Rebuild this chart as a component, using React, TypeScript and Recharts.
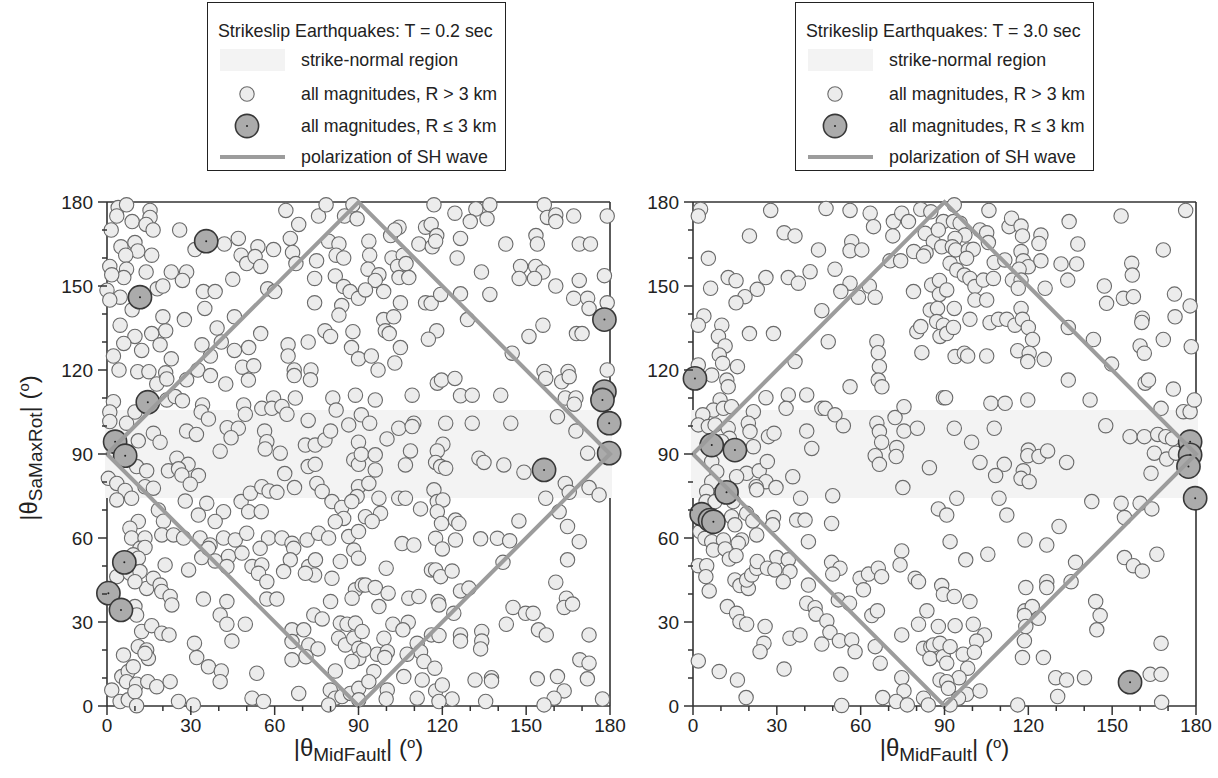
import React from 'react';
import { ScatterChart, Scatter, XAxis, YAxis, ReferenceArea, Label } from 'recharts';

// ---- axis / reference values (degrees) ----
const angleTicks = [0, 10, 20, 30, 40, 50, 60, 70, 80, 90, 100, 110, 120, 130, 140, 150, 160, 170, 180];
const majorStep = 30;
const strikeNormalBand = [75, 105];
const shPolarization: [number, number][] = [[0, 90], [90, 180], [180, 90], [90, 0], [0, 90]];

// ---- T = 0.2 sec ----
const shortSmall: [number, number][] = [
  [4,178],[7,179],[3.5,175],[15.4,177],[15.4,174.5],[9,173],[14,172],[16.5,170],[1.5,170],[26,170],[5,164],[10,165.5],[11,162.5],[6.7,161],[16,161],[1,157],[7,156],[6,153],[1.7,154],[14,155],[23,155],[28.5,155],[27,152],[0,148.5],[4.7,146],[1,145],[18,149],[20,150],[9,141.5],[34.5,148],[38.7,148],[35,142],[20,139],[27.7,138],[4.7,136],[21,134],[16,133],[10,132],[6,129.5],[19,129],[12.4,127],[2.3,125],[23,124],[4.3,120],[31.5,163],[42,165],[47,167],[48,161],[50,158],[54,164],[53,160.5],[55,157],[59.6,163],[57.5,149],[60,148],[45,152.4],[45.6,139],[39.4,135],[40.9,130],[34,129],[37,125],[45.6,127],[50.7,128],[55,133],[48.5,121],[52.5,121.5],[64.8,129],[64.8,125],[72,130],[64,177],[68.6,172],[65.6,167],[66.4,162],[67.6,158],[75,159],[74.3,152.7],[74.3,144],[79.3,166],[83,165],[82,161],[84.7,160],[81.7,153.6],[84.7,149.8],[87,148],[90,145.6],[84,143],[83,139.6],[78,134],[80,132],[88,133.7],[87.5,128],[90,124],[75.7,175],[78.4,179],[88,179],[85,175],[89.5,174],[11,119.4],[15,119.4],[21,119],[32.5,120],[67,120],[73,120],
  [117,179],[124.5,176],[132,177.5],[137,179],[130,173],[136,174],[156.5,179],[157.6,174.5],[160.6,175.4],[160.6,173],[167,175],[179,175],[93.7,166],[94,161],[93.4,156],[101.5,168],[104.5,171],[103,170],[114,171],[116,172],[118,168],[111.6,165],[116.4,164],[117.6,166],[126.5,167],[125.3,160],[102,160],[106,161],[104,157],[107,158],[104.5,153],[108,153],[97.3,154],[96,152],[99,148],[92.5,148.6],[134,155],[142.7,165],[153.5,168],[154,165],[169,165],[173,165],[148,157],[153.4,157],[156,155],[147.5,152.7],[153,152.7],[160.6,150],[169,152],[178,153.7],[105,144],[114,144],[116,143.8],[119.4,147],[126.5,147.2],[137,147],[99,138],[102.6,139],[99.6,134],[101,133],[118,134],[115,131],[129,138],[105,128],[94.6,125],[151,132],[156,136],[167,145.6],[172,145.6],[172.5,142],[179,144],[168,133],[170,133],[145,126],[179,120],[156.4,119.5],[165,119.5],[97,120],[103,122.5],
  [17.8,115],[21.4,116.8],[28.5,116.5],[37,118],[42.5,115],[50.6,116.4],[67,118],[72.8,116.5],[2.3,108.7],[1,105],[1,101.6],[7,101],[10,105],[21.4,109.3],[24.4,110.5],[27,109],[34.2,107.5],[33.7,105],[36.3,102.5],[48.9,107.5],[49.5,104.2],[55.4,106.3],[59.6,110],[59,106.3],[62.6,107],[64.4,104.2],[67.4,110],[72,102],[80.8,110],[82,105.7],[88.9,111],[86.5,100.4],[91,104],[16.6,97.4],[19,94.2],[11.2,94.7],[28.5,98.2],[32,97],[43,99.4],[47,99.2],[44.4,95.8],[56.4,98.2],[57.2,94.4],[56.6,91.8],[40.5,91],[62,90.3],[71,93.2],[74.5,93.2],[78,95],[80,98.2],[90,94.2],[25,88.5],[29,86.3],[22,84],[25.6,84.7],[26.8,82.5],[32.7,82.3],[29.8,79.2],[10.6,85.5],[14.2,84],[0.5,81.3],[3.5,79.5],[6.5,77],[8.8,74.2],[13.6,78.3],[16.6,77.8],[3.5,73.6],[28,73.2],[35.7,72.4],[32.7,68.2],[41.7,69.4],[38.7,65.9],[48,73],[51.3,76],[55.4,78.3],[58,76.8],[60.8,76.3],[50.7,69.4],[55.2,69.4],[63.6,83],[67.1,78],[72,85.5],[74.5,86.3],[75.1,79.5],[77,76.6],[88.3,87.9],[90,86.3],[91,89.9],[90,78.3],[89.5,74.8],[80.5,73],[84,70.9],[87.6,73],[84.7,67],[81.7,65.8],[18.4,70],[20.2,66],[11.2,65.9],[8.2,63.5],[8.8,60],[13.6,60],[19.6,61.1],[23.8,61.1],[27.4,60],[33.3,60],[36.9,57.5],[41.7,60],[45.9,59.3],[50,61.7],[57.8,60],[62.6,60],[66.2,58.1],[71.6,59.3],[75.7,61.7],[79.3,60],[86.5,60.5],[90,62.3],
  [118.2,115.3],[119.7,116.4],[124.5,117],[109.2,111],[126.5,110.8],[130.7,111],[140.9,111],[157,117],[162.7,115.8],[165.4,117.6],[164,110],[167.8,110],[167.2,107.8],[96,109.3],[94,101],[104.4,99.2],[109.8,101],[109.2,99.8],[121.2,101],[130.7,101],[144.5,101],[100.2,95.4],[161.2,103.3],[167.8,98.2],[108.6,91.1],[106.8,86.1],[120.2,93.5],[118.2,91.1],[117.6,87],[119.4,85.5],[121.2,84.9],[133.1,88.5],[134.9,87],[142,86.1],[149.2,83.5],[172,90.3],[96,89.7],[96,84.3],[93.7,79.5],[97.3,74.2],[97.9,68.8],[92.5,67.6],[94.9,65.9],[104.4,74.2],[106.8,74.2],[112.2,70.4],[117,77.2],[118.2,73],[120.2,73.6],[118.2,69.4],[119.7,65.2],[124.7,66.4],[125.9,65.2],[147.4,66.1],[157,74.2],[164,79.5],[165.4,76.3],[161.8,69.4],[172.5,78],[176.1,75.4],[164.8,64.1],[105.6,58],[109.8,57.5],[117.6,59.9],[124.7,59.3],[133.7,59.7],[139.7,59.9],[144.1,59],[169,58.7],
  [11.8,56.3],[13.6,56.6],[9.4,54],[11.2,52.8],[20.8,50.4],[29.2,48.6],[33.9,53],[36.3,56.3],[38.7,51.8],[43.5,53.4],[42.9,49.8],[48.3,54.6],[54.8,56.3],[51.9,49.8],[55.4,50.4],[54.2,47.4],[57.2,44.4],[66.8,56.3],[65.6,52.2],[63.2,48],[72.2,49.8],[74.6,52.2],[74.3,46.8],[71,47.4],[83.5,51.6],[80.5,45.6],[88.3,55.7],[90,52.8],[88.9,41.5],[91.3,43.2],[87.7,38.5],[3.5,46.2],[8.2,47.4],[11.8,48],[14.2,42],[16.6,45.6],[19,43.2],[19.6,40.9],[22.6,39.1],[23.2,36.1],[10,44.4],[10,35.5],[10.6,32.5],[34.5,38.2],[42.9,37.3],[40.5,32.5],[42.9,29.2],[49.5,29.2],[44.7,23.2],[57.2,38.2],[60.8,38.2],[74,32.5],[77,31.1],[80,37.3],[66.2,27.2],[70.4,27.2],[66.2,23],[72.2,21.8],[75.5,20.4],[71.2,17.6],[66.2,16.5],[83.5,29.6],[85.9,29.2],[88.9,29.6],[82.9,24.2],[85.3,21.8],[88.3,24.2],[91.3,26.6],[90.1,20.6],[90.1,17],[87.7,15.9],[12.4,26.6],[16,28.7],[19.6,26],[22.2,25.4],[11.2,21.2],[14.2,20],[14.8,17],[13.6,18.8],[31.3,22.4],[32.1,17.3],[36.3,14],[40.9,12.5],[40.5,8.7],[5.9,18.2],[5.3,10.5],[7.6,12.3],[9.4,14],[7,8.7],[10.6,7.8],[14.6,8.7],[17.8,6.9],[22.6,8.7],[1.7,5.7],[4.7,1.6],[7.6,2.2],[10,5.1],[10.6,0.1],[25.6,1.6],[30.9,0.4],[53.6,11.7],[51.9,2.8],[56,1.6],[68.6,4.5],[81.7,12.5],[79.9,5.7],[81.7,2.8],[84.1,3.4],[87.1,4.5],[90.1,6.3],[90.1,2.2],[79.3,0.4],
  [120,56.1],[99.9,49.2],[116.1,48.6],[117.6,48.6],[119.4,46.2],[123.5,48.2],[141.7,51.3],[164.8,52.2],[92.5,43.2],[96,42.3],[100.6,40.3],[108,38.5],[111.6,39.1],[97.3,35.5],[118.5,37.3],[118.8,36.1],[124.1,33.1],[126.5,41.1],[129.5,42.1],[160.6,44.2],[164.4,38.5],[163.6,35.2],[166.6,36.4],[145.3,35.2],[149.8,33.1],[152.5,33.1],[142.9,29.2],[154.4,27.2],[157.2,25.4],[172.5,25.4],[102.3,29.2],[107.8,29.9],[105.9,27.2],[99.1,24.2],[96.7,18.5],[100.3,19.4],[99.4,17.3],[111,22.4],[112.2,19.4],[107.4,18.5],[113.4,15.9],[116.1,25.4],[118.8,25.2],[126.5,25.4],[126.5,23.2],[134.1,26.6],[134.1,23.2],[133.7,20.4],[117.3,13.5],[106.2,10.5],[112.8,9.3],[117.6,5.4],[120,7.5],[123.5,2.5],[118.8,1.6],[131.7,9.3],[137.6,10.1],[137.6,8.9],[111,2.8],[100.3,5.7],[99.9,2.5],[135.5,1.6],[154,9.7],[161.2,10.5],[163.6,5.4],[160,2.8],[156.4,0.4],[169.2,16.5],[172.5,15.3],[171.9,9.7],[177.3,2.5],[95.5,12.3],[93.7,8.7],[91.9,20],
];
const shortNear: [number, number][] = [
  [35.5,166],[11.8,146],[14.6,108.5],[2.9,94.4],[6.5,89.4],[178,112.3],[177.3,109.3],[179.7,101],[179.7,90.3],[156.4,84.3],[178,138],[6.2,51.3],[0.5,40.3],[5,34.3],
];

// ---- T = 3.0 sec ----
const longSmall: [number, number][] = [
  [2.7,177.4],[1.9,175],[27.8,177],[47.6,177.7],[56.2,177],[63.4,176],[64.6,171.2],[71.7,173],[74.7,176],[77.1,173],[81.5,177.4],[85.1,176.5],[89.6,173],[71.5,167.9],[20.2,167.9],[32.6,169],[36.5,167.9],[44.9,162.9],[56.8,165.8],[56.2,162.6],[60.4,162.9],[83.1,168.8],[86,165.8],[87.8,170],[89,164],[79,162.3],[83.4,161.9],[82.5,160.7],[5.5,159.9],[70.5,159],[74.3,159],[12.6,153],[15.4,151.9],[26.1,153],[34.1,153],[37.7,151],[41.9,155.1],[50.8,156],[6.3,149.2],[18.6,146.2],[15.4,144],[23,148.8],[56.2,151],[52.9,148],[59.2,146],[63.1,150],[65.2,146],[78.9,148],[85.4,150.4],[88.2,152],[88.2,147],[90.8,148.6],[84.9,141.4],[87.5,142],[87.2,137.3],[89.6,136],[88.4,132],[90.8,133],[3.9,139.3],[1.9,136],[10.3,136],[9.1,132],[11.5,128.6],[9.4,125.4],[10.6,122.4],[15.9,121.2],[20.2,133],[28.8,133],[46.1,141.2],[48.4,130.1],[65.8,130.1],[66.3,126.2],[66.7,121.2],[80.1,133.7],[81.5,135.5],[81.9,126.2],[36.5,123],[1.9,121.8],
  [93.5,179],[105.9,177],[93.2,173],[95.6,172.4],[97.3,168.2],[93.8,167],[92.8,164],[94,162.9],[98.5,162.9],[100.3,163.1],[102.7,170],[105.1,169],[105.7,165.5],[113.1,171.2],[114,174.2],[117.4,171.4],[117.9,167.9],[124.5,168.2],[123.8,165.2],[134.6,173],[137.7,165],[153.2,175],[176.3,177],[168.3,162.9],[92,158.1],[94.4,155.7],[97.9,159.9],[97.1,153.9],[99.1,152.7],[100.9,149.8],[103.9,152.1],[107.5,152.7],[107.8,158.4],[111.6,159.3],[117.4,162.3],[118.2,159],[120,156.9],[116.7,156],[114.3,152.1],[117.4,152.1],[116.4,149.2],[124.5,159],[126,149.2],[131.7,157.9],[137.3,157.9],[134.1,152.1],[147.2,150],[148,143.8],[154,145.6],[157.6,146.2],[157,158.1],[157.2,153.9],[172.3,147.1],[177.9,142.9],[172.5,139],[93.5,142],[93.2,135.2],[99.1,138.1],[100.9,145],[105.1,145],[106.3,136.9],[109.3,138.1],[112.3,138.1],[115.2,136],[117.4,142],[117.9,138.1],[120,135.2],[121.5,130.9],[134.3,135.2],[143.3,130.9],[160.8,138.5],[160.6,137],[168.3,130.9],[160,128.6],[161.5,126],[178.3,128.3],[93.8,124.8],[97.1,126],[98.3,125],[105.1,125],[116.2,126.9],[120.3,126],[119.8,123],[125.7,123.8],[149.8,122.1],
  [6.7,118.2],[12.1,116.4],[12.6,114],[9.7,109.3],[7.3,105.7],[10.9,106.3],[13.8,106.9],[3.5,104],[1.9,100.4],[5.5,99.8],[7.9,100.4],[12.6,99.2],[13,95.6],[10.3,94.4],[21.6,105.1],[19.8,101],[20.4,98],[27,96.2],[29,97.4],[21.6,92.6],[26.1,110.1],[34.1,111.1],[40.7,111.1],[33.3,106.3],[46.1,106.3],[47.3,106.3],[50.8,104],[53.8,100.1],[40.7,98.2],[42.5,92],[56.2,114],[66.3,116.4],[67.6,114],[65.8,101],[66.7,98],[67.5,94.2],[65.2,89.4],[66.7,86.3],[72.3,103],[75.5,106.9],[75.5,98.2],[80.3,99.2],[72.9,92.3],[72.7,89.1],[84.6,85.1],[75.1,78],[89.6,110.1],[6.7,87.3],[8.5,83.7],[6.7,80.1],[4.9,76.6],[4.7,73],[7.9,73],[10.9,76.6],[19.2,83.1],[15.6,81.9],[23.7,84],[26.6,87.3],[26.1,80.1],[22.6,78.3],[22.8,77.2],[29.7,78],[35.7,81.9],[38.5,74.2],[50,75.1],[14.4,73],[13.8,67.6],[15,64.7],[19.2,68.8],[21.4,66.1],[22.8,61.1],[17.4,59.3],[16.2,58.1],[28.8,67.3],[28.5,64.7],[37.1,66.4],[40.1,66.4],[49.6,65.2],[41.3,58.7],[87.8,70.4],[2.5,62.3],[4.3,59.9],[6.7,58.7],[10.9,59.3],
  [134.3,116.4],[90.4,110.1],[106.6,108.1],[111.7,108.1],[119.8,109.3],[142.1,109.3],[161.8,115.3],[163,116.4],[171.9,113.2],[167.5,106.3],[175.5,105.1],[177.9,105.1],[179.4,109.3],[93.5,99.2],[107.8,99.2],[99.7,94.2],[147.7,100.1],[156.4,96.2],[161.5,96.2],[166.3,97],[169.2,96.2],[171.6,95.4],[120,91.4],[119.8,89.4],[123.8,89.1],[126.9,91.1],[118.2,84],[117.4,81.3],[120.3,80.1],[111.4,86.3],[108.3,82.3],[102.7,87],[133.7,87],[165.1,90.3],[169.5,88.2],[172.8,90.3],[163.9,83.1],[94.4,74.2],[90.8,68.2],[109.5,74.2],[112.3,68.2],[142.7,73],[153.2,72.4],[160,72.4],[164.2,70.4],[154.4,67.3],[131,64.1],[92,58.7],[118.8,59.3],[126.6,57.5],
  [7.3,55.7],[11.5,56.1],[13,52.5],[15.4,53.7],[1.9,50.1],[4.9,50.1],[4.6,46.2],[5.8,41.1],[15,45],[16.8,43],[19.8,42],[19.2,45],[21,46.8],[22.8,49.2],[23,51.6],[26.6,49.2],[30,53],[29.3,48.6],[34.1,52.2],[34.7,48],[32.3,44.4],[41.3,43.2],[49.6,51.3],[52.6,49.2],[50,47.1],[59.8,45.6],[62.8,47.1],[66.3,49.2],[67.5,46.2],[61,41.5],[74.7,55.4],[74.1,50.4],[79.5,45.6],[80.7,44.4],[89,43],[89.6,39.9],[12.3,35.5],[15.6,33.1],[16.8,30.1],[19.2,29.2],[25.8,28.4],[25.4,22.4],[24,19.4],[34.7,24.2],[38.3,25.4],[40.7,36.7],[43.7,35.1],[44,32.8],[47.9,30.4],[49,26.3],[46.1,22.1],[52,37.9],[56,36.7],[52.4,23.3],[56.8,23.6],[58,19.4],[64,32.3],[66,34],[65.2,21.2],[67,15.3],[74.7,25.4],[80.7,29.2],[83.7,34],[82.5,20.6],[85.1,21.2],[86,21.8],[88.4,22.4],[87.8,28.4],[84.8,17],[89.6,17.6],[1.9,16.1],[9.4,12.3],[15.9,9.3],[19,3],[32.6,13.2],[52.9,11.3],[53.2,0.2],[74.7,10.1],[75.5,5.4],[67.9,3],[72.7,1.6],[76.7,0.4],[82.5,2.8],[84.2,0.4],[88.4,9.3],
  [97.6,52.2],[105.5,54.2],[136.9,51.3],[154.4,53],[157.6,50.1],[160.8,48.2],[166,54.2],[93.5,39.1],[99.1,37.3],[119.1,42.3],[126.6,44.4],[126.6,42.3],[135.3,44.4],[118.8,34],[121.4,35.5],[118.6,32.3],[123.6,31.3],[119.1,28.4],[118.6,23.3],[117.9,17.3],[125.4,17.3],[144.1,37.3],[145.7,32.3],[144.5,27.2],[167.5,22.4],[93.8,28.7],[100.3,29.2],[104.3,25.4],[101.5,23.2],[92,21.2],[96.7,18.5],[100.7,19.2],[90.8,15.3],[98.3,13.5],[95.2,10.1],[90.8,8.7],[91.4,6.3],[97.9,4.2],[102.7,5.4],[95,2.8],[92,0.4],[116.2,0.4],[129.8,10.1],[133.7,9.3],[140.1,10.1],[130.5,3.4],[163.6,11.3],[167.5,11.3],[167.7,1.3],
];
const longNear: [number, number][] = [
  [0.7,117],[6.7,93.2],[15,91.4],[12,76.3],[3.1,68.5],[6.1,66.4],[7.3,65.8],[177.9,94.4],[177.9,89.7],[177.3,85.5],[179.7,74.2],[156.4,8.5],
];

const FONT = '"Liberation Sans", Arial, Helvetica, sans-serif';
const AXIS = '#333';
const BAND = '#f3f3f3';
const SH = '#9c9c9c';
const TICK_FONT = 19;
const LEGEND_FONT = 17.8;

const asPoints = (arr: [number, number][]) => arr.map(([x, y]) => ({ x, y }));

const SmallDot = (p: any) => (
  <circle cx={p.cx} cy={p.cy} r={7.2} fill="#ececec" stroke="#6a6a6a" strokeWidth={1.1} />
);
const BigDot = (p: any) => (
  <g>
    <circle cx={p.cx} cy={p.cy} r={11.6} fill="#ababab" stroke="#383838" strokeWidth={1.6} />
    <circle cx={p.cx} cy={p.cy} r={1} fill="#222" />
  </g>
);
const NoDot = () => <g />;

const tickLen = (v: number) => (v % majorStep === 0 ? 9 : 5);

const makeTick = (side: 'bottom' | 'top' | 'left' | 'right', labelled: boolean) => (p: any) => {
  const v = Number(p.payload.value);
  const len = tickLen(v);
  const major = v % majorStep === 0;
  const { x, y } = p;
  let line: React.ReactNode = null;
  let text: React.ReactNode = null;
  if (side === 'bottom') {
    line = <line x1={x} y1={y} x2={x} y2={y + len} stroke={AXIS} strokeWidth={1.5} />;
    if (labelled && major) text = <text x={x} y={y + 26} textAnchor="middle" fontSize={TICK_FONT} fill="#222" fontFamily={FONT}>{v}</text>;
  } else if (side === 'top') {
    line = <line x1={x} y1={y} x2={x} y2={y - len} stroke={AXIS} strokeWidth={1.5} />;
  } else if (side === 'left') {
    line = <line x1={x} y1={y} x2={x - len} y2={y} stroke={AXIS} strokeWidth={1.5} />;
    if (labelled && major) text = <text x={x - 14} y={y + 7} textAnchor="end" fontSize={TICK_FONT} fill="#222" fontFamily={FONT}>{v}</text>;
  } else {
    line = <line x1={x} y1={y} x2={x + len} y2={y} stroke={AXIS} strokeWidth={1.5} />;
  }
  return <g>{line}{text}</g>;
};

const TitleText = ({ sub }: { sub: string }) => (
  <>
    <tspan>|θ</tspan>
    <tspan fontSize={19} dy={5}>{sub}</tspan>
    <tspan dy={-5}>| (</tspan>
    <tspan fontSize={15} dy={-8}>o</tspan>
    <tspan dy={8}>)</tspan>
  </>
);

const XTitle = (props: any) => {
  const vb = props.viewBox || {};
  const cx = vb.x + vb.width / 2;
  const cy = vb.y + 50;
  return (
    <text x={cx} y={cy} textAnchor="middle" fontSize={24} fill="#222" fontFamily={FONT}>
      <TitleText sub="MidFault" />
    </text>
  );
};

const YTitle = (props: any) => {
  const vb = props.viewBox || {};
  const cx = vb.x - 10;
  const cy = vb.y + vb.height / 2 - 6;
  return (
    <text x={cx} y={cy} textAnchor="middle" fontSize={24} fill="#222" fontFamily={FONT} transform={`rotate(-90 ${cx} ${cy})`}>
      <TitleText sub="SaMaxRot" />
    </text>
  );
};

const LegendBox = ({ period }: { period: string }) => (
  <svg width={300} height={170} style={{ display: 'block' }}>
    <rect x={0.5} y={0.5} width={298} height={168} fill="#fff" stroke="#222" strokeWidth={1} />
    <text x={11} y={35} fontSize={LEGEND_FONT} fill="#222" fontFamily={FONT}>{`Strikeslip Earthquakes: T = ${period} sec`}</text>
    <rect x={13} y={47} width={65} height={22} fill={BAND} />
    <text x={94} y={64} fontSize={LEGEND_FONT} fill="#222" fontFamily={FONT}>strike-normal region</text>
    <SmallDot cx={40} cy={92} />
    <text x={94} y={98} fontSize={LEGEND_FONT} fill="#222" fontFamily={FONT}>all magnitudes, R &gt; 3 km</text>
    <BigDot cx={40} cy={124} />
    <text x={94} y={130} fontSize={LEGEND_FONT} fill="#222" fontFamily={FONT}>all magnitudes, R ≤ 3 km</text>
    <line x1={13} y1={155} x2={78} y2={155} stroke={SH} strokeWidth={4} />
    <text x={94} y={161} fontSize={LEGEND_FONT} fill="#222" fontFamily={FONT}>polarization of SH wave</text>
  </svg>
);

const Panel = ({ small, near, withYTitle }: { small: [number, number][]; near: [number, number][]; withYTitle: boolean }) => (
  <ScatterChart width={640} height={778} margin={{ top: 192, right: 20, bottom: 12, left: 47 }}>
    <XAxis
      type="number" dataKey="x" xAxisId={0} orientation="bottom" domain={[0, 180]} ticks={angleTicks}
      interval={0} height={60} tickSize={0} tickMargin={0} tickLine={false}
      axisLine={{ stroke: AXIS, strokeWidth: 1.6 }} tick={makeTick('bottom', true)}
    >
      <Label content={XTitle} />
    </XAxis>
    <XAxis
      type="number" dataKey="x" xAxisId="top" orientation="top" domain={[0, 180]} ticks={angleTicks}
      interval={0} height={10} tickSize={0} tickMargin={0} tickLine={false}
      axisLine={{ stroke: AXIS, strokeWidth: 1.6 }} tick={makeTick('top', false)}
    />
    <YAxis
      type="number" dataKey="y" yAxisId={0} orientation="left" domain={[0, 180]} ticks={angleTicks}
      interval={0} width={60} tickSize={0} tickMargin={0} tickLine={false}
      axisLine={{ stroke: AXIS, strokeWidth: 1.6 }} tick={makeTick('left', true)}
    >
      {withYTitle ? <Label content={YTitle} /> : null}
    </YAxis>
    <YAxis
      type="number" dataKey="y" yAxisId="right" orientation="right" domain={[0, 180]} ticks={angleTicks}
      interval={0} width={10} tickSize={0} tickMargin={0} tickLine={false}
      axisLine={{ stroke: AXIS, strokeWidth: 1.6 }} tick={makeTick('right', false)}
    />
    <ReferenceArea
      x1={0} x2={180} y1={strikeNormalBand[0]} y2={strikeNormalBand[1]}
      fill={BAND} fillOpacity={1} stroke={BAND} strokeWidth={4} ifOverflow="visible" zIndex={550}
    />
    <Scatter data={asPoints(small)} shape={SmallDot} isAnimationActive={false} />
    <Scatter data={asPoints(near)} shape={BigDot} isAnimationActive={false} />
    <Scatter
      data={asPoints(shPolarization)} shape={NoDot} line={{ stroke: SH, strokeWidth: 4 }}
      lineType="joint" isAnimationActive={false}
    />
  </ScatterChart>
);

export default function App() {
  return (
    <div style={{ position: 'absolute', left: 0, top: 0, width: 1218, height: 778, background: '#fff', fontFamily: FONT }}>
      <div style={{ position: 'absolute', left: 0, top: 0 }}>
        <Panel small={shortSmall} near={shortNear} withYTitle={true} />
      </div>
      <div style={{ position: 'absolute', left: 586, top: 0 }}>
        <Panel small={longSmall} near={longNear} withYTitle={false} />
      </div>
      <div style={{ position: 'absolute', left: 207, top: 2 }}>
        <LegendBox period="0.2" />
      </div>
      <div style={{ position: 'absolute', left: 795, top: 2 }}>
        <LegendBox period="3.0" />
      </div>
    </div>
  );
}
